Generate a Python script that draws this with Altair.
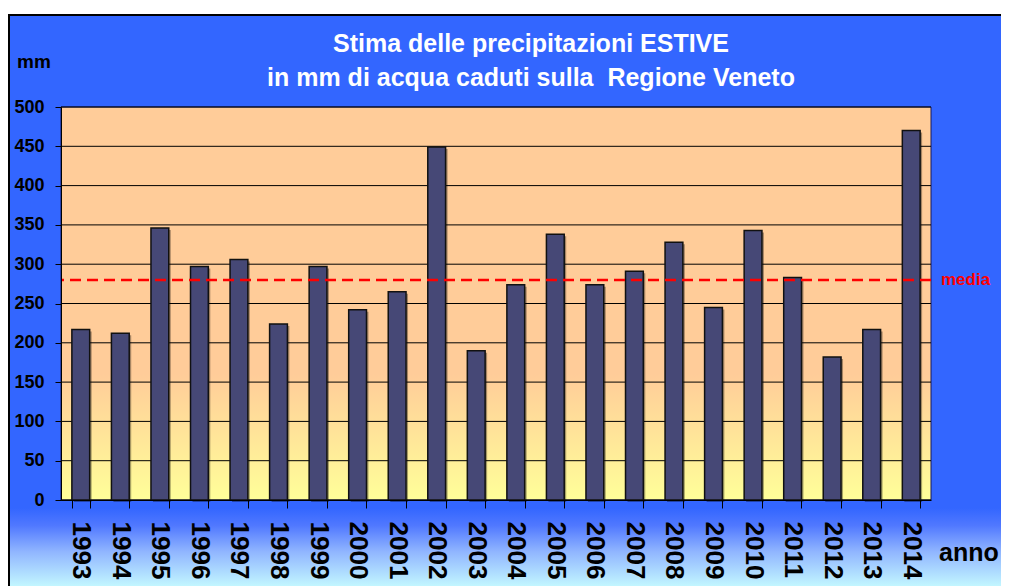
import altair as alt
import pandas as pd

# ---- data ----
years = [str(y) for y in range(1993, 2015)]
mm_values = [217, 212, 346, 297, 306, 224, 297, 242, 265, 449, 190,
             274, 338, 274, 291, 328, 245, 343, 283, 182, 217, 470]
media_value = [280]
y_ticks = [0, 50, 100, 150, 200, 250, 300, 350, 400, 450, 500]
title_lines = ["Stima delle precipitazioni ESTIVE",
               "in mm di acqua caduti sulla\u00a0 Regione Veneto"]
y_unit = "mm"
x_unit = "anno"
media_label = "media"

FONT = "Liberation Sans"
W, H = 870, 393

bars_df = pd.DataFrame({"anno": years, "mm": mm_values})
media_df = pd.DataFrame({"mm": media_value, "lbl": [media_label]})
grid_df = pd.DataFrame({"mm": y_ticks})
one = pd.DataFrame({"a": [0]})

yscale = alt.Scale(domain=[0, 500], nice=False, zero=True)
xscale = alt.Scale(paddingInner=0.55, paddingOuter=0.275)

x_axis = alt.Axis(title=None, labelAngle=90, labelFontSize=26,
                  labelFont=FONT, labelFontWeight="bold",
                  labelColor="black", labelAlign="left",
                  labelBaseline="middle", labelPadding=13,
                  tickSize=8, tickColor="black", tickWidth=1,
                  tickBand="extent", domainColor="black", grid=False,
                  domainWidth=1, zindex=1, labelOverlap=False)
y_axis = alt.Axis(title=None, values=y_ticks, labelFontSize=18,
                  labelFont=FONT, labelFontWeight="bold",
                  labelColor="black", labelPadding=11,
                  tickSize=6, tickColor="black", tickWidth=1,
                  domainColor="black", domainWidth=1, grid=False,
                  zindex=1, labelFlush=False, labelOverlap=False)

bottom_grad = alt.LinearGradient(
    gradient="linear", x1=0, x2=0, y1=0, y2=1,
    stops=[
        alt.GradientStop(offset=0, color="#3366FF"),
        alt.GradientStop(offset=0.22, color="#5078FF"),
        alt.GradientStop(offset=0.55, color="#90B5FF"),
        alt.GradientStop(offset=1, color="#C4F8FF"),
    ],
)
plot_grad = alt.LinearGradient(
    gradient="linear", x1=0, x2=0, y1=0, y2=1,
    stops=[
        alt.GradientStop(offset=0, color="#FFCC99"),
        alt.GradientStop(offset=0.68, color="#FFCC99"),
        alt.GradientStop(offset=1, color="#FFFF99"),
    ],
)

# decorative frame pieces
top_white = alt.Chart(one).mark_rect(fill="white").encode(
    x=alt.value(-60), x2=alt.value(960), y=alt.value(-110), y2=alt.value(-92)
)
bottom_band = alt.Chart(one).mark_rect(fill=bottom_grad).encode(
    x=alt.value(-52), x2=alt.value(960), y=alt.value(401), y2=alt.value(480)
)
left_border = alt.Chart(one).mark_rule(color="black", strokeWidth=2).encode(
    x=alt.value(-52), y=alt.value(-93), y2=alt.value(480)
)
top_border = alt.Chart(one).mark_rule(color="black", strokeWidth=2).encode(
    x=alt.value(-53), x2=alt.value(960), y=alt.value(-92)
)
plotbg = alt.Chart(one).mark_rect(fill=plot_grad, stroke="#1a1a5a", strokeWidth=1).encode(
    x=alt.value(0), x2=alt.value(W), y=alt.value(0), y2=alt.value(H)
)
grid = alt.Chart(grid_df).mark_rule(color="black", strokeWidth=1).encode(
    y=alt.Y("mm:Q", scale=yscale, axis=y_axis)
)
shadow = alt.Chart(bars_df).mark_bar(
    color="black", opacity=0.35, xOffset=2, yOffset=2, y2Offset=0
).encode(
    x=alt.X("anno:O", sort=None, scale=xscale, axis=x_axis),
    y=alt.Y("mm:Q", scale=yscale, axis=y_axis),
)
bars = alt.Chart(bars_df).mark_bar(
    color="#464876", stroke="#111111", strokeWidth=1.5
).encode(
    x=alt.X("anno:O", sort=None, scale=xscale, axis=x_axis),
    y=alt.Y("mm:Q", scale=yscale, axis=y_axis),
)
media_rule = alt.Chart(media_df).mark_rule(
    color="#FF0000", strokeWidth=2.5, strokeDash=[11, 6]
).encode(y=alt.Y("mm:Q", scale=yscale, axis=y_axis))
media_text = alt.Chart(media_df).mark_text(
    align="left", baseline="middle", color="#FF0000", fontSize=17,
    fontWeight="bold", font=FONT
).encode(y=alt.Y("mm:Q", scale=yscale, axis=y_axis), x=alt.value(880), text="lbl:N")

title = alt.Chart(one).mark_text(
    text=title_lines, align="center", baseline="alphabetic", lineHeight=34,
    fontSize=25, fontWeight="bold", font=FONT, color="white"
).encode(x=alt.value(470), y=alt.value(-55))
mm_text = alt.Chart(one).mark_text(
    text=y_unit, align="left", baseline="alphabetic", fontSize=19,
    fontWeight="bold", font=FONT, color="black"
).encode(x=alt.value(-44), y=alt.value(-39))
anno_text = alt.Chart(one).mark_text(
    text=x_unit, align="left", baseline="alphabetic", fontSize=25,
    fontWeight="bold", font=FONT, color="black"
).encode(x=alt.value(878), y=alt.value(454))

chart = alt.layer(
    top_white, bottom_band, left_border, top_border, plotbg, grid, shadow,
    bars, media_rule, media_text, title, mm_text, anno_text
).properties(
    width=W, height=H,
    autosize=alt.AutoSizeParams(type="none"),
    padding={"left": 53, "top": 99, "right": 70, "bottom": 86},
    background="#3366FF",
).configure_view(stroke=None)

chart.save("out.html", embed_options={"renderer": "svg", "actions": False})
